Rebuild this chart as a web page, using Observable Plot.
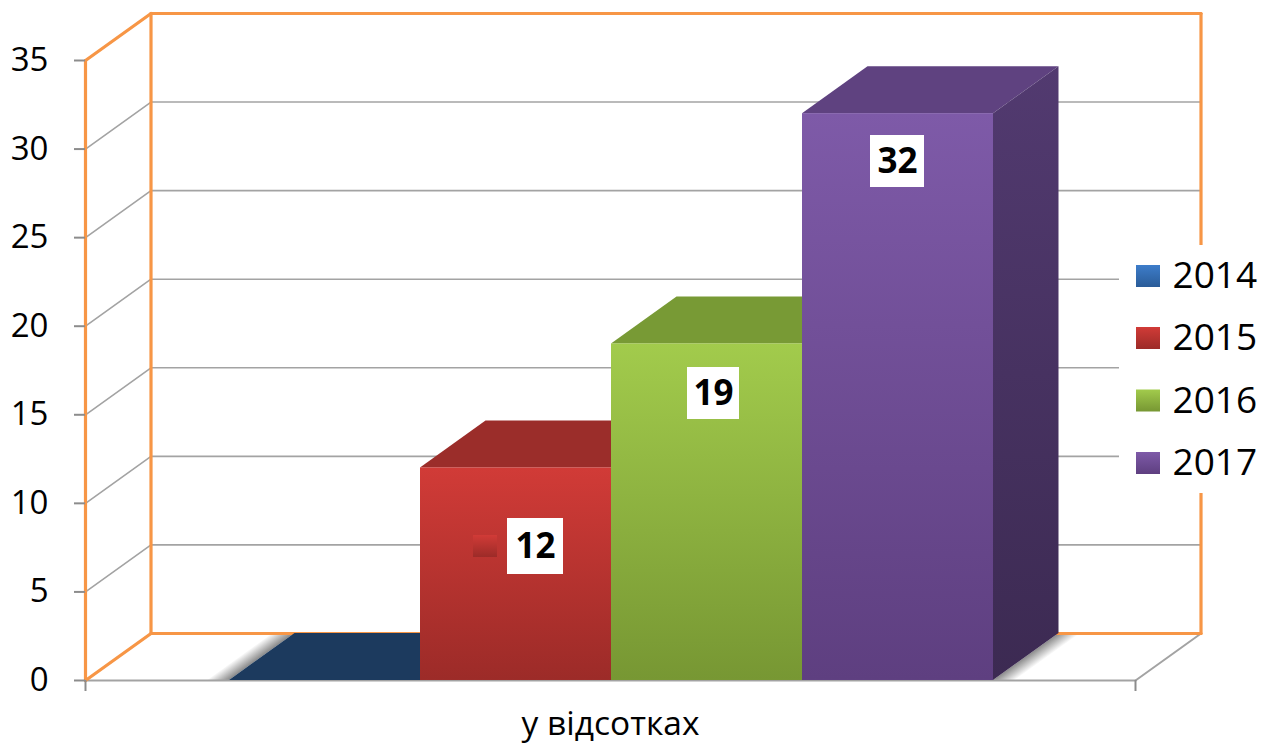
<!DOCTYPE html>
<html lang="uk">
<head>
<meta charset="utf-8">
<title>у відсотках</title>
<script src="https://cdn.jsdelivr.net/npm/d3@7"></script>
<script src="https://cdn.jsdelivr.net/npm/@observablehq/plot@0.6"></script>
<style>
  html, body { margin: 0; padding: 0; background: #fff; overflow: hidden; }
  svg { display: block; }
</style>
</head>
<body>
<div id="chart"></div>
<script>
// Chart data
const years = ["2014", "2015", "2016", "2017"];
const values = [0, 12, 19, 32];
const yTicks = [0, 5, 10, 15, 20, 25, 30, 35];
const axisTitle = "у відсотках";

// Face colours per series: front gradient top/bottom, roof, side top/bottom
const frontTop = ["#3d7dca", "#d13b37", "#a2cb4c", "#7e5aa8"];
const frontBottom = ["#2a5c98", "#9c2b28", "#779733", "#5e3f80"];
const roofColor = ["#1c3a5e", "#9b2d2a", "#789a35", "#5f4280"];
const sideTop = ["#1c3a5e", "#7d2320", "#617d2a", "#523a70"];
const sideBottom = ["#16304e", "#6b1e1c", "#54702a", "#3c2a52"];

// Projection of the box: one category is one x unit, the depth is a slanted offset
const chartWidth = 1274, chartHeight = 745;
const frameLeft = 85, frameTop = 13, unitX = 191, unitY = 17.714;
const depthX = 65.5 / unitX, depthY = 47 / unitY;
const floorEnd = 1050 / unitX;
const firstBar = 144 / unitX;
const yMax = 35 + depthY;
const baseY = frameTop + yMax * unitY;

// Frame positions for the annotations that do not belong to the data
const fx = (px) => (px - frameLeft) / unitX;
const fy = (py) => (baseY - py) / unitY;

const series = years.map((year, i) => ({
  year, i, value: values[i],
  x1: firstBar + i, x2: firstBar + i + 1
}));

// Defs: vertical gradients for bars and swatches, diagonal ones for the floor shadows
function gradients() {
  const defs = d3.create("svg:defs");
  const vertical = (id, c1, c2) => {
    const g = defs.append("linearGradient").attr("id", id)
      .attr("x1", 0).attr("y1", 0).attr("x2", 0).attr("y2", 1);
    g.append("stop").attr("offset", 0).attr("stop-color", c1);
    g.append("stop").attr("offset", 1).attr("stop-color", c2);
  };
  years.forEach((y, i) => {
    vertical(`front${y}`, frontTop[i], frontBottom[i]);
    vertical(`side${y}`, sideTop[i], sideBottom[i]);
  });
  const shadow = (id, x1, y1, x2, y2) => {
    const g = defs.append("linearGradient").attr("id", id)
      .attr("gradientUnits", "userSpaceOnUse")
      .attr("x1", x1).attr("y1", y1).attr("x2", x2).attr("y2", y2);
    g.append("stop").attr("offset", 0).attr("stop-color", "#8a8a8a");
    g.append("stop").attr("offset", 1).attr("stop-color", "#fff");
  };
  shadow("shadowLeft", 261.5, 656.5, 253.9, 645.9);
  shadow("shadowRight", 1025.5, 656.5, 1033.1, 667.1);
  return defs.node();
}

// One closed outline per wall edge
const segment = (x1, y1, x2, y2) => [{x: x1, y: y1}, {x: x2, y: y2}];
const orange = "#f79646";
const grey = "#a3a3a3";

const orangeEdges = [
  segment(0, 0, 0, 35),
  segment(0, 35, depthX, yMax),
  segment(depthX, yMax, floorEnd + depthX, yMax),
  segment(depthX, depthY, depthX, yMax),
  segment(depthX, depthY, floorEnd + depthX, depthY),
  segment(floorEnd + depthX, depthY, floorEnd + depthX, yMax),
  segment(0, 0, depthX, depthY)
];
const greyEdges = [
  segment(0, 0, floorEnd, 0),
  segment(floorEnd, 0, floorEnd + depthX, depthY)
];
const gridTicks = yTicks.filter((t) => t > 0 && t < 35);

const edgeMark = (seg, stroke, strokeWidth) =>
  Plot.line(seg, {x: "x", y: "y", stroke, strokeWidth, clip: false});

// Faces of one bar, all drawn through the chart scales
function barFaces(d) {
  const roof = [
    {y: d.value, x1: d.x1, x2: d.x2},
    {y: d.value + depthY, x1: d.x1 + depthX, x2: d.x2 + depthX}
  ];
  const side = [
    {x: d.x2, y1: 0, y2: d.value},
    {x: d.x2 + depthX, y1: depthY, y2: d.value + depthY}
  ];
  const marks = [
    Plot.areaX(roof, {y: "y", x1: "x1", x2: "x2", fill: roofColor[d.i]})
  ];
  if (d.value > 0) {
    marks.push(
      Plot.areaY(side, {x: "x", y1: "y1", y2: "y2", fill: `url(#side${d.year})`}),
      Plot.rectY([d], {x1: "x1", x2: "x2", y1: 0, y2: "value", inset: 0, fill: `url(#front${d.year})`})
    );
  }
  return marks;
}

// Floor shadows either side of the bar group
const shadowEnd = 22 / unitX;
const shadowMark = (x0, offset, fill) => Plot.areaX(
  [
    {y: 0, x1: x0, x2: x0 + offset},
    {y: depthY, x1: x0 + depthX, x2: x0 + depthX + offset}
  ],
  {y: "y", x1: "x1", x2: "x2", fill}
);

// Value labels: white plate, bold number; zero has no label
const labelled = series.filter((d) => d.value > 0);
const labelCenterX = [535, 713, 897].map(fx);
const labelCenterY = [546, 393, 161].map(fy);
const plateHalfW = [28, 26, 27].map((w) => w / unitX);
const plateHalfH = [28, 26, 26].map((h) => h / unitY);
const plates = labelled.map((d, i) => ({
  text: String(d.value),
  cx: labelCenterX[i], cy: labelCenterY[i],
  x1: labelCenterX[i] - plateHalfW[i], x2: labelCenterX[i] + plateHalfW[i],
  y1: labelCenterY[i] - plateHalfH[i], y2: labelCenterY[i] + plateHalfH[i]
}));

// Legend, to the right of the plot on its own white panel
const legendRows = series.map((d, i) => {
  const centre = [276, 338, 400.5, 463][i];
  return {
    year: d.year,
    x1: fx(1136), x2: fx(1160),
    y1: fy(centre + 11), y2: fy(centre - 11),
    tx: fx(1172), ty: fy(centre)
  };
});

const plot = Plot.plot({
  width: chartWidth, height: chartHeight,
  marginLeft: frameLeft,
  marginRight: chartWidth - frameLeft - (floorEnd + depthX) * unitX,
  marginTop: frameTop,
  marginBottom: chartHeight - baseY,
  style: {background: "#fff", fontFamily: "'Open Sans', sans-serif"},
  x: {domain: [0, floorEnd + depthX], axis: null},
  y: {domain: [0, yMax], axis: null},
  marks: [
    gradients,

    // Back wall gridlines and their slanted continuation on the side wall
    Plot.ruleY(gridTicks, {
      y: (t) => t + depthY, x1: depthX, x2: floorEnd + depthX,
      stroke: grey, strokeWidth: 1.6
    }),
    ...gridTicks.map((t) => edgeMark(segment(0, t, depthX, t + depthY), grey, 1.6)),

    // Floor shadows sit under the wall lines
    shadowMark(firstBar, -shadowEnd, "url(#shadowLeft)"),
    shadowMark(firstBar + years.length, shadowEnd, "url(#shadowRight)"),

    // Walls and floor outline
    ...greyEdges.map((s) => edgeMark(s, grey, 2)),
    ...orangeEdges.map((s) => edgeMark(s, orange, 3.2)),

    // Axis ticks and labels
    Plot.axisY({
      ticks: yTicks, anchor: "left", tickSize: 11, tickPadding: 26,
      stroke: "#8c8c8c", strokeWidth: 2, fill: "#000",
      fontSize: 33, label: null
    }),
    Plot.ruleX([0, floorEnd], {
      x: (d) => d, y1: 0, y2: fy(691), stroke: "#8c8c8c", strokeWidth: 2
    }),

    // Bars, left to right so each one hides the side of the previous one
    ...series.flatMap(barFaces),

    // Small series key that sits next to the 12 label
    Plot.rect([series[1]], {
      x1: fx(473), x2: fx(497), y1: fy(557), y2: fy(535),
      fill: `url(#front${series[1].year})`
    }),

    // Value plates
    Plot.rect(plates, {x1: "x1", x2: "x2", y1: "y1", y2: "y2", fill: "#fff"}),
    Plot.text(plates, {
      x: "cx", y: "cy", text: "text", fill: "#000",
      fontSize: 35, fontWeight: 700, textAnchor: "middle"
    }),

    // Legend panel and entries
    Plot.rect([0], {
      x1: fx(1119), x2: fx(1274), y1: fy(493), y2: fy(245), fill: "#fff"
    }),
    Plot.rect(legendRows, {
      x1: "x1", x2: "x2", y1: "y1", y2: "y2",
      fill: (d) => `url(#front${d.year})`
    }),
    Plot.text(legendRows, {
      x: "tx", y: "ty", text: "year", fill: "#000",
      fontSize: 37, textAnchor: "start"
    }),

    // Category title under the floor
    Plot.text([axisTitle], {
      x: fx(610), y: fy(724), text: (d) => d, fill: "#000",
      fontSize: 33.5, textAnchor: "middle"
    })
  ]
});

document.getElementById("chart").append(plot);
</script>
</body>
</html>
